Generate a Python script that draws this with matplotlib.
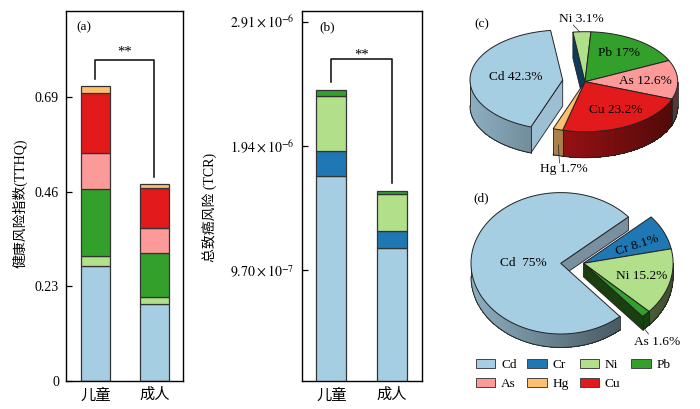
import numpy as np
import matplotlib
matplotlib.use("Agg")
import matplotlib.pyplot as plt
from matplotlib.patches import Patch, Polygon
from matplotlib.collections import PolyCollection
from matplotlib.colors import to_rgb

plt.rcParams['font.family'] = ['Liberation Serif', 'Noto Sans CJK SC', 'DejaVu Sans']
plt.rcParams['mathtext.fontset'] = 'stix'
plt.rcParams['font.size'] = 10

# ---------- data ----------
groups = ['儿童', '成人']
metal_colors = {'Cd': '#a6cee3', 'Cr': '#1f78b4', 'Ni': '#b2df8a', 'Pb': '#33a02c',
                'As': '#fb9a99', 'Hg': '#fdbf6f', 'Cu': '#e31a1c'}

tthq_metals = ['Cd', 'Ni', 'Pb', 'As', 'Cu', 'Hg']
tthq_child = [0.2785, 0.026, 0.161, 0.0893, 0.146, 0.0146]
tthq_adult = [0.186, 0.018, 0.107, 0.060, 0.098, 0.0106]
tthq_ticks = [0, 0.23, 0.46, 0.69]
tthq_ticklabels = ['0', '0.23', '0.46', '0.69']

tcr_metals = ['Cd', 'Cr', 'Ni', 'Pb']
tcr_child = [1.703e-6, 0.195e-6, 0.435e-6, 0.041e-6]
tcr_adult = [1.142e-6, 0.132e-6, 0.289e-6, 0.028e-6]
tcr_ticks = [9.70e-7, 1.94e-6, 2.91e-6]
tcr_ticklabels = [r'$9.70\times10^{-7}$', r'$1.94\times10^{-6}$', r'$2.91\times10^{-6}$']

pie_c_metals = ['Ni', 'Pb', 'As', 'Cu', 'Hg', 'Cd']
pie_c_shares = [3.1, 17, 12.6, 23.2, 1.7, 42.3]
pie_d_metals = ['Cr', 'Ni', 'Pb', 'Cd']
pie_d_shares = [8.1, 15.2, 1.6, 75]

W, H = 700, 409
fig = plt.figure(figsize=(W / 100, H / 100), dpi=100)


def px_axes(left, top, right, bottom):
    return fig.add_axes([left / W, (H - bottom) / H, (right - left) / W, (bottom - top) / H])


def stacked(ax, metals, child, adult, width):
    for i, vals in enumerate([child, adult]):
        base = 0
        for m, v in zip(metals, vals):
            ax.bar(i, v, width, bottom=base, color=metal_colors[m], edgecolor='#333333', linewidth=0.9)
            base += v
    ax.set_xticks([0, 1], groups, fontsize=11)
    ax.tick_params(axis='x', length=0, pad=5)
    ax.tick_params(axis='y', direction='in', length=4, width=0.9, pad=5)
    for s in ax.spines.values():
        s.set_linewidth(1.0)


def bracket(ax, y_left, y_top, y_right, star_y):
    ax.plot([0, 0, 1, 1], [y_left, y_top, y_top, y_right], color='#111111', lw=1.15)
    ax.text(0.5, star_y, '**', ha='center', va='center', fontsize=10.5)


# panel a
ax_a = px_axes(66, 10.5, 183, 381)
stacked(ax_a, tthq_metals, tthq_child, tthq_adult, 0.49)
ax_a.set_xlim(-0.497, 1.486)
ax_a.set_ylim(0, 0.9)
ax_a.set_yticks(tthq_ticks, tthq_ticklabels)
ax_a.set_ylabel('健康风险指数(TTHQ)', fontsize=10)
ax_a.yaxis.set_label_coords(-0.325, 0.48)
bracket(ax_a, 0.7335, 0.78, 0.496, 0.798)

# panel b
ax_b = px_axes(301.7, 10.5, 421.7, 381)
stacked(ax_b, tcr_metals, tcr_child, tcr_adult, 0.497)
ax_b.set_xlim(-0.49, 1.497)
ax_b.set_ylim(1.066e-7, 2.996e-6)
ax_b.set_yticks(tcr_ticks, tcr_ticklabels)
ax_b.set_ylabel('总致癌风险 (TCR)', fontsize=10)
ax_b.yaxis.set_label_coords(-0.70, 0.469)
bracket(ax_b, 2.442e-6, 2.619e-6, 1.651e-6, 2.65e-6)

# overlay in pixel units for pies and labels
ov = fig.add_axes([0, 0, 1, 1])
ov.set_xlim(0, W)
ov.set_ylim(H, 0)
ov.axis('off')
ov.patch.set_alpha(0)


def shade(color, f):
    return tuple(c * f for c in to_rgb(color))


def draw_pie(metals, shares, start, cx, cy, rx, ry, depth, offsets, cuts):
    scale = 360 / sum(shares)
    a = start
    for m, s in zip(metals, shares):
        a0, a1 = a, a - s * scale
        a = a1
        dx, dy = offsets.get(m, (0, 0))
        x0, y0 = cx + dx, cy + dy
        col = metal_colors[m]

        def pt(deg, down=0):
            r = np.radians(deg)
            return x0 + rx * np.cos(r), y0 - ry * np.sin(r) + down

        # visible cut face
        if m in cuts:
            edge, face = cuts[m]
            e = a0 if edge == 'start' else a1
            ov.add_patch(Polygon([(x0, y0), pt(e), pt(e, depth), (x0, y0 + depth)], closed=True,
                                 facecolor=face, edgecolor='#222222', linewidth=0.6, zorder=2))
        # outer wall: only the front half of the ellipse shows
        ang = np.unique(np.concatenate([[a1], np.arange(np.ceil(a1), np.floor(a0) + 1.0), [a0]]))
        ang = ang[np.sin(np.radians(ang)) <= 1e-9]
        if len(ang) > 1:
            quads, cols = [], []
            for t0, t1 in zip(ang[:-1], ang[1:]):
                quads.append([pt(t0), pt(t1), pt(t1, depth), pt(t0, depth)])
                cols.append(shade(col, 0.85 - 0.25 * (np.cos(np.radians((t0 + t1) / 2)) + 1)))
            ov.add_collection(PolyCollection(quads, facecolors=cols, edgecolors='none',
                                             antialiaseds=False, zorder=2.2))
            low = np.array([pt(t, depth) for t in ang])
            ov.plot(low[:, 0], low[:, 1], color='#222222', lw=0.7, zorder=2.4)
            for t in (ang[0], ang[-1]):
                p, q = pt(t), pt(t, depth)
                ov.plot([p[0], q[0]], [p[1], q[1]], color='#222222', lw=0.6, zorder=2.4)
        # top face
        rr = np.radians(np.linspace(a0, a1, 120))
        poly = [(x0, y0)] + list(zip(x0 + rx * np.cos(rr), y0 - ry * np.sin(rr)))
        ov.add_patch(Polygon(poly, closed=True, facecolor=col, edgecolor='#222222', linewidth=0.7, zorder=3))


draw_pie(pie_c_metals, pie_c_shares, 97.5, 585, 81.7, 92.7, 50, 26,
         {'Cd': (-22.3, -1.7)},
         {'Ni': ('start', '#0e3a5c'), 'Cd': ('start', '#9dbfd4')})
draw_pie(pie_d_metals, pie_d_shares, 41, 560.7, 263.3, 89.7, 70.7, 13.5,
         {'Cd': (0, 0), 'Cr': (22.7, 0), 'Ni': (22.7, 0), 'Pb': (22.7, 0)},
         {'Cd': ('end', '#7890a0'), 'Pb': ('end', '#1a3f10')})

# leader lines
ov.plot([573.3, 579.5], [25, 31.7], color='#222222', lw=0.5, zorder=5)
ov.plot([558.3, 559.5], [145, 163], color='#222222', lw=0.5, zorder=5)
ov.plot([641.5, 648.5], [325, 334], color='#222222', lw=0.5, zorder=5)

# slice labels and panel letters
for x, y, s, rot in [
    (516, 76.7, 'Cd 42.3%', 0), (581.7, 19, 'Ni 3.1%', 0), (619, 52.7, 'Pb 17%', 0),
    (645.7, 80.7, 'As 12.6%', 0), (615.7, 110, 'Cu 23.2%', 0), (564, 169, 'Hg 1.7%', 0),
    (523.3, 263.3, 'Cd  75%', 0), (637.7, 245, 'Cr 8.1%', 18), (641.7, 275.7, 'Ni 15.2%', 0),
    (656.7, 341.7, 'As 1.6%', 0),
    (84, 27, '(a)', 0), (327, 27, '(b)', 0), (481.7, 24, '(c)', 0), (481, 198, '(d)', 0),
]:
    ov.text(x, y, s, ha='center', va='center', rotation=rot, rotation_mode='anchor', fontsize=9.6, zorder=6)

# legend
legend_order = ['Cd', 'As', 'Cr', 'Hg', 'Ni', 'Cu', 'Pb']
handles = [Patch(facecolor=metal_colors[m], edgecolor='#444444', linewidth=0.7, label=m) for m in legend_order]
ov.legend(handles=handles, ncol=4, loc='upper left', bbox_to_anchor=(475.7 / W, 1 - 358.5 / H),
          bbox_transform=fig.transFigure, frameon=False, fontsize=9.6,
          handlelength=1.45, handleheight=0.7, handletextpad=0.45, columnspacing=0.8,
          labelspacing=0.5, borderpad=0, borderaxespad=0)

fig.savefig('out.png', dpi=100)
